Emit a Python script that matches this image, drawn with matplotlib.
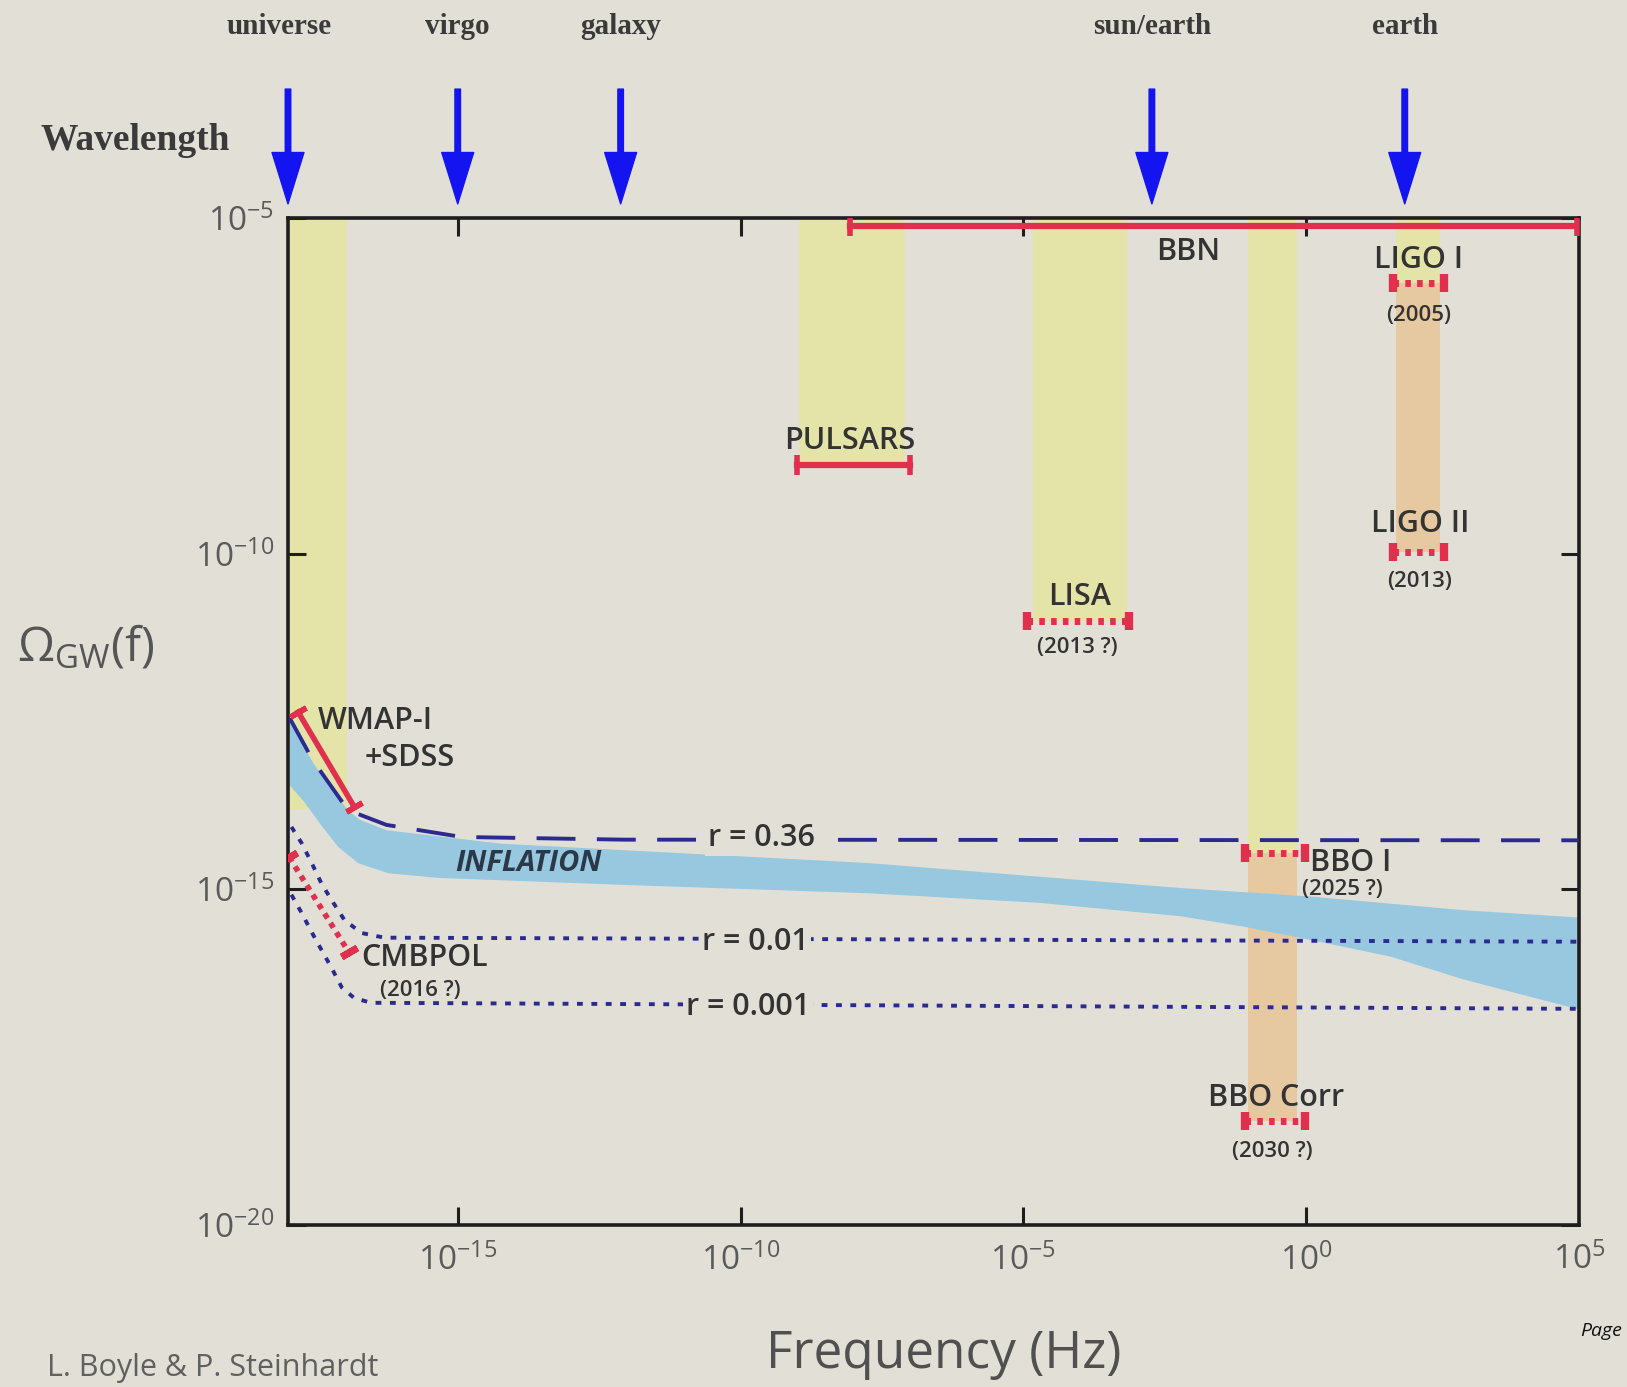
import numpy as np
import matplotlib.pyplot as plt
from matplotlib.ticker import FixedLocator, FuncFormatter, NullLocator

plt.rcParams['font.family'] = ['Open Sans', 'DejaVu Sans']
plt.rcParams['mathtext.fontset'] = 'custom'
plt.rcParams['mathtext.rm'] = 'Open Sans'
plt.rcParams['mathtext.it'] = 'Open Sans:italic'
plt.rcParams['mathtext.bf'] = 'Open Sans:bold'

# ---- data (log10 frequency, log10 Omega_GW) ----
# inflation band edges
infl_top_f = [-17.97, -17.56, -17.29, -16.94, -16.74, -16.26, -14.23, -12.21, -7.71, -2.23, 0.11, 2.77, 4.82]
infl_top = [-12.50, -13.11, -13.45, -13.82, -13.96, -14.12, -14.32, -14.41, -14.61, -14.98, -15.11, -15.31, -15.42]
infl_bot_f = [-17.97, -17.71, -17.41, -17.11, -16.76, -16.23, -15.34, -12.21, -7.71, -4.74, -2.23,
              -1.08, 0.11, 1.48, 2.77, 4.82]
infl_bot = [-13.45, -13.70, -14.05, -14.37, -14.61, -14.76, -14.83, -14.93, -15.06, -15.20, -15.40,
            -15.56, -15.76, -16.00, -16.34, -16.79]

# tensor-to-scalar curves
r036_f = [-17.97, -17.56, -16.94, -16.26, -14.93, -12.07, 4.82]
r036 = [-12.45, -13.08, -13.82, -14.04, -14.22, -14.26, -14.27]
r001_f = [-17.94, -17.76, -17.58, -17.41, -17.23, -17.00, -16.70, -16.30, 4.82]
r001 = [-14.07, -14.31, -14.61, -14.91, -15.16, -15.46, -15.65, -15.72, -15.78]
r0001_f = [-17.94, -17.76, -17.58, -17.41, -17.23, -17.05, -16.83, -16.53, 4.82]
r0001 = [-15.08, -15.35, -15.64, -15.90, -16.17, -16.46, -16.62, -16.69, -16.78]

# CMB bounds
wmap_f = [-17.82, -16.83]
wmap = [-12.36, -13.77]
cmbpol_f = [-17.98, -16.93]
cmbpol = [-14.52, -15.93]

# current bounds (solid): BBN, pulsars
solid_lo = [-8.07, -9.01]
solid_hi = [4.78, -7.01]
solid_y = [-5.12, -8.68]

# planned experiments (dotted): LIGO I, LIGO II, LISA, BBO I, BBO Corr
dot_lo = [1.54, 1.54, -4.94, -1.08, -1.08]
dot_hi = [2.44, 2.44, -3.13, -0.02, -0.02]
dot_y = [-5.97, -9.98, -11.00, -14.46, -18.45]

# sensitivity windows
yel_lo = [-17.97, -8.96, -4.83, -1.03, 1.59]
yel_hi = [-16.96, -7.09, -3.17, -0.16, 2.36]
yel_bot = [-13.8, -8.68, -11.0, -14.46, -5.97]
ora_lo = [-1.03, 1.59]
ora_hi = [-0.16, 2.36]
ora_top = [-14.46, -5.97]
ora_bot = [-18.45, -9.98]

# wavelength markers
wl_names = ['universe', 'virgo', 'galaxy', 'sun/earth', 'earth']
wl_f = [-18.0, -15.0, -12.12, -2.73, 1.74]

BG = '#e2e0d6'
YEL = '#e4e3a8'
ORA = '#e6c9a0'
BLUE = '#97c8df'
RED = '#e0304e'
NAVY = '#2a2a90'
TXT = '#333333'

fig = plt.figure(figsize=(16.27, 13.87), dpi=100, facecolor=BG)
ax = fig.add_axes([288 / 1627, 1 - 1225 / 1387, 1291 / 1627, 1007 / 1387], facecolor=BG)
ax.set_xscale('log')
ax.set_yscale('log')
ax.set_xlim(10 ** -18, 10 ** 4.82)
ax.set_ylim(1e-20, 1e-5)

p = lambda v: 10.0 ** np.asarray(v)

for lo, hi, b in zip(yel_lo, yel_hi, yel_bot):
    ax.fill_between(p([lo, hi]), p([b, b]), 1e-5, color=YEL, lw=0, zorder=1)
for lo, hi, t, b in zip(ora_lo, ora_hi, ora_top, ora_bot):
    ax.fill_between(p([lo, hi]), p([b, b]), p([t, t]), color=ORA, lw=0, zorder=1)

ax.fill(p(infl_top_f + infl_bot_f[::-1]), p(infl_top + infl_bot[::-1]),
        color=BLUE, lw=0, zorder=2)

ax.plot(p(r036_f), p(r036), color=NAVY, lw=2.8, dashes=(10, 5.5), zorder=3)
ax.plot(p(r001_f), p(r001), color=NAVY, lw=2.8, dashes=(1.5, 2.2), zorder=3)
ax.plot(p(r0001_f), p(r0001), color=NAVY, lw=2.8, dashes=(1.5, 2.2), zorder=3)

cap = (2, 2, -60)
ax.plot(p(wmap_f), p(wmap), color=RED, lw=4, zorder=4, marker=cap, ms=13, mew=4)
ax.plot(p(cmbpol_f), p(cmbpol), color=RED, lw=4, dashes=(1, 1), zorder=4)
ax.plot(p(cmbpol_f), p(cmbpol), color=RED, lw=0, zorder=4, marker=cap, ms=13, mew=5)

for lo, hi, y in zip(solid_lo, solid_hi, solid_y):
    ax.plot(p([lo, hi]), p([y, y]), color=RED, lw=4.5, zorder=4,
            marker='|', ms=14, mew=4)
for lo, hi, y in zip(dot_lo, dot_hi, dot_y):
    ax.plot(p([lo, hi]), p([y, y]), color=RED, lw=5, dashes=(0.8, 0.9), zorder=4)
    ax.plot(p([lo, hi]), p([y, y]), color=RED, lw=0, zorder=4,
            marker='|', ms=13, mew=6)

# labels
lab = dict(color=TXT, fontsize=22, fontweight='semibold', zorder=5)
small = dict(color=TXT, fontsize=16, fontweight='semibold', zorder=5)
bgbox = dict(facecolor=BG, edgecolor='none', pad=2)

def put(x, y, s, ha='center', style=lab, **kw):
    ax.text(10 ** x, 10 ** y, s, ha=ha, va='center', **style, **kw)

put(-2.09, -5.51, 'BBN')
put(1.98, -5.62, 'LIGO I')
put(1.98, -6.45, '(2005)', style=small)
put(-8.07, -8.32, 'PULSARS')
put(2.02, -9.56, 'LIGO II')
put(2.0, -10.41, '(2013)', style=small)
put(-4.01, -10.64, 'LISA')
put(-4.05, -11.40, '(2013 ?)', style=small)
put(-17.47, -12.49, 'WMAP-I', ha='left')
put(-16.65, -13.04, '+SDSS', ha='left')
put(-9.63, -14.24, 'r = 0.36', bbox=bgbox)
put(-13.75, -14.61, 'INFLATION', style=dict(color='#2b3848', fontsize=21,
    fontweight='bold', fontstyle='italic', zorder=5))
put(0.06, -14.61, 'BBO I', ha='left')
put(-0.08, -15.0, '(2025 ?)', ha='left', style=small)
put(-9.74, -15.79, 'r = 0.01', bbox=bgbox)
put(-16.70, -16.02, 'CMBPOL', ha='left')
put(-16.37, -16.51, '(2016 ?)', ha='left', style=small)
put(-9.87, -16.75, 'r = 0.001', bbox=bgbox)
put(-0.53, -18.11, 'BBO Corr')
put(-0.60, -18.91, '(2030 ?)', style=small)

# axes styling
for s in ax.spines.values():
    s.set_linewidth(2.6)
    s.set_color('#1e1e1e')
ax.xaxis.set_major_locator(FixedLocator([1e-15, 1e-10, 1e-5, 1e0]))
ax.yaxis.set_major_locator(FixedLocator([1e-20, 1e-15, 1e-10, 1e-5]))
ax.xaxis.set_minor_locator(NullLocator())
ax.yaxis.set_minor_locator(NullLocator())
fmt = FuncFormatter(lambda v, pos: r'$10^{%d}$' % round(np.log10(v)))
ax.xaxis.set_major_formatter(fmt)
ax.yaxis.set_major_formatter(fmt)
ax.tick_params(which='major', direction='in', length=13, width=2.2,
               top=True, right=True, labelsize=24, labelcolor='#5a5a5a', color='#1e1e1e')
ax.tick_params(axis='x', pad=14)
ax.tick_params(axis='y', pad=10)
ax.text(1.0, -0.018, r'$10^{5}$', transform=ax.transAxes, ha='center', va='top',
        fontsize=24, color='#5a5a5a')

# wavelength arrows
for name, f in zip(wl_names, wl_f):
    ax.annotate('', xy=(10 ** f, 1.014), xytext=(10 ** f, 1.128),
                xycoords=('data', 'axes fraction'), annotation_clip=False,
                arrowprops=dict(facecolor='#1414f0', edgecolor='#1414f0',
                                width=4, headwidth=23, headlength=37, shrink=0))
    ax.text(10 ** (f - (0.15 if name == 'universe' else 0)), 1.19, name,
            transform=ax.get_xaxis_transform(), ha='center', va='center',
            family='Liberation Serif', fontweight='bold', fontsize=21, color='#3a3a3a')

fig.text(135 / 1627, 1 - 140 / 1387, 'Wavelength', ha='center', va='center',
         family='Liberation Serif', fontweight='bold', fontsize=27, color='#3a3a3a')
fig.text(86 / 1627, 1 - 648 / 1387, r'$\Omega_{\rm GW}$(f)', ha='center', va='center',
         fontsize=34, color='#555555')
fig.text(944 / 1627, 1 - 1354 / 1387, 'Frequency (Hz)', ha='center', va='center',
         fontsize=37, color='#505050')
fig.text(47 / 1627, 4 / 1387, 'L. Boyle & P. Steinhardt', ha='left', va='bottom',
         fontsize=22, color='#606060')
fig.text(1622 / 1627, 1 - 1331 / 1387, 'Page', ha='right', va='center',
         fontsize=14, fontstyle='italic', color='#111111')

fig.savefig('out.png', dpi=100, facecolor=BG)
